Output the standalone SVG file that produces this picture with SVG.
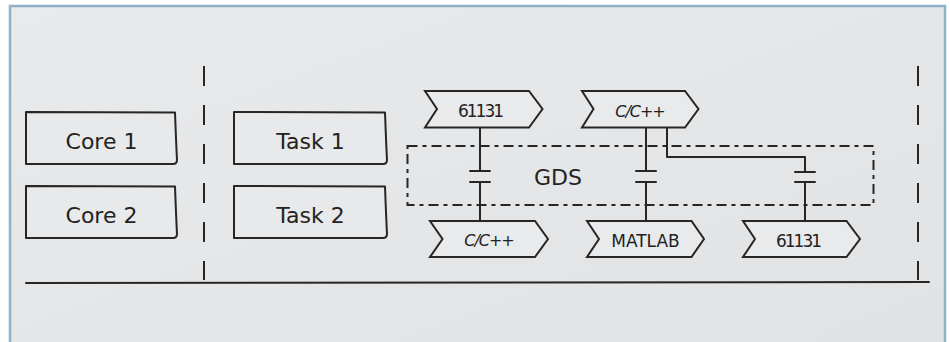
<svg xmlns="http://www.w3.org/2000/svg" width="950" height="342" viewBox="0 0 950 342">
<defs>
<linearGradient id="bg" x1="0" y1="0" x2="1" y2="1">
<stop offset="0" stop-color="#e9eaec"/>
<stop offset="0.5" stop-color="#e5e6e8"/>
<stop offset="1" stop-color="#e1e2e4"/>
</linearGradient>
<style>
.ln{fill:none;stroke:#262626;stroke-width:2;stroke-linecap:round;stroke-linejoin:round}
.box{fill:#e8e9eb;stroke:#262626;stroke-width:2;stroke-linejoin:round}
.chev{fill:#e9eaec;stroke:#262626;stroke-width:2;stroke-linejoin:miter}
.vd{fill:none;stroke:#262626;stroke-width:2;stroke-dasharray:20 19}
.gds{fill:none;stroke:#262626;stroke-width:2;stroke-dasharray:10 5 4 5}
.big{font-family:"DejaVu Sans",sans-serif;font-size:22px;fill:#222;text-anchor:middle}
.sm{font-family:"DejaVu Sans",sans-serif;font-size:17px;fill:#222;text-anchor:middle}
.it{font-style:italic;font-size:16px;letter-spacing:-1px}
</style>
</defs>
<rect x="0" y="0" width="950" height="342" fill="#ffffff"/>
<rect x="10" y="6" width="935" height="345" fill="url(#bg)" stroke="#8fb1c5" stroke-width="2.5"/>
<g id="separators">
<path class="vd" d="M204,66 L204,280"/>
<path class="vd" d="M918,66 L918,280"/>
<path class="ln" d="M26,283 Q400,282 929,282"/>
</g>
<g id="core1">
<path class="box" d="M26,112 L175,112.5 Q176,140 177,160 Q177,164 173,164 L26,164 Z"/>
<text class="big" x="101.5" y="149">Core 1</text>
</g>
<g id="core2">
<path class="box" d="M26,186 L175,186.5 Q176,214 177,234 Q177,238 173,238 L26,238 Z"/>
<text class="big" x="101.5" y="223">Core 2</text>
</g>
<g id="task1">
<path class="box" d="M234,112 L385,112.5 Q386,140 387,160 Q387,164 383,164 L234,164 Z"/>
<text class="big" x="310.5" y="149">Task 1</text>
</g>
<g id="task2">
<path class="box" d="M234,186 L385,186.5 Q386,214 387,234 Q387,238 383,238 L234,238 Z"/>
<text class="big" x="310.5" y="223">Task 2</text>
</g>
<g id="gds">
<rect class="gds" x="407.5" y="146" width="466" height="59"/>
<text class="big" x="558" y="185" font-size="23">GDS</text>
</g>
<g id="src-61131">
<path class="chev" d="M425,91 L529,91 L542.5,109 L529,127.5 L425,127.5 L437,109 Z"/>
<text class="sm" x="480" y="116.5" letter-spacing="-2">61131</text>
</g>
<g id="src-cpp">
<path class="chev" d="M582,91 L685,91 L698.5,109 L685,127.5 L582,127.5 L593.5,109 Z"/>
<text class="sm it" x="640" y="116.5">C/C++</text>
</g>
<g id="dst-cpp">
<path class="chev" d="M430,221 L535,221 L548,239 L535,257 L430,257 L442.5,239 Z"/>
<text class="sm it" x="489" y="246">C/C++</text>
</g>
<g id="dst-matlab">
<path class="chev" d="M587,221 L691.5,221 L704,239 L691.5,257 L587,257 L599,239 Z"/>
<text class="sm" x="645.5" y="246.5">MATLAB</text>
</g>
<g id="dst-61131">
<path class="chev" d="M743,221 L846.5,221 L860,239 L846.5,257 L743,257 L755,239 Z"/>
<text class="sm" x="798" y="246.5" letter-spacing="-2">61131</text>
</g>
<g id="connectors">
<path class="ln" d="M480,128 V171 M470,171 H490 M470,182 H490 M480,182 V220"/>
<path class="ln" d="M646,128 V171 M636,171 H656 M636,182 H656 M646,182 V220"/>
<path class="ln" d="M667,128 V157 H805 V172 M795,172 H815 M795,182 H815 M805,182 V220"/>
</g>
</svg>
